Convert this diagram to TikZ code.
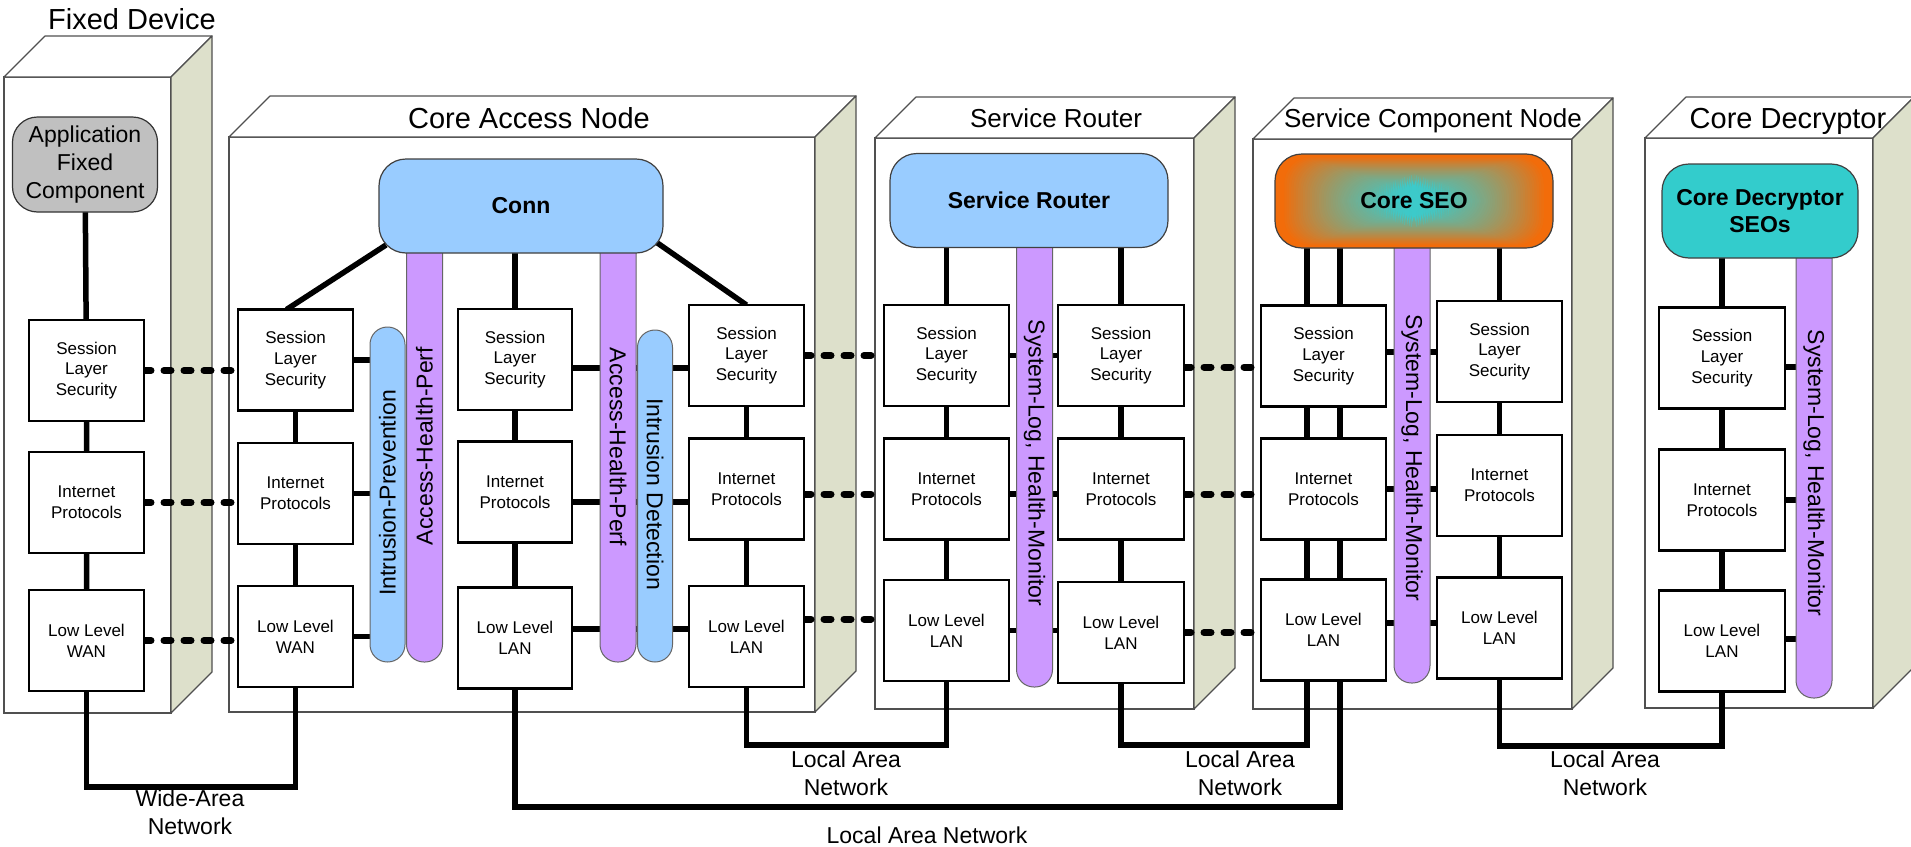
\documentclass[tikz,border=0pt]{standalone}
\usepackage{fontspec}
\setmainfont{Liberation Sans}
\definecolor{khaki}{RGB}{221,224,203}
\definecolor{lblue}{RGB}{153,204,255}
\definecolor{lpurple}{RGB}{204,153,255}
\definecolor{appgray}{RGB}{192,192,192}
\definecolor{tealbox}{RGB}{51,204,204}
\definecolor{seoin}{RGB}{60,202,202}
\definecolor{seoout}{RGB}{242,108,10}
\definecolor{cubeline}{RGB}{80,80,80}
\pgfdeclarelayer{cubes}
\pgfdeclarelayer{wires}
\pgfsetlayers{cubes,wires,main}
\newcommand\devcube[4]{%
  \filldraw[fill=white,draw=cubeline,line width=1.2pt] (#1,#3) rectangle (#2,#4);
  \filldraw[fill=white,draw=cubeline,line width=1.2pt,line join=round] (#1,#3) -- (#1+41,#3-41) -- (#2+41,#3-41) -- (#2,#3) -- cycle;
  \filldraw[fill=khaki,draw=cubeline,line width=1.2pt,line join=round] (#2,#3) -- (#2+41,#3-41) -- (#2+41,#4-41) -- (#2,#4) -- cycle;}
\tikzset{
  every node/.style={inner sep=0pt,outer sep=0pt},
  stack/.style={draw=black,line width=2.5pt,fill=white,minimum width=#1,minimum height=101pt,align=center,font=\fontsize{17}{20.7}\selectfont},
  stack/.default=115pt,
  bigbox/.style={draw=black!75,line width=1.2pt,rounded corners=27pt,minimum width=#1,minimum height=94pt,align=center,font=\fontsize{23}{27}\selectfont\bfseries},
  barb/.style={fill=lblue,draw=black!60,line width=1pt,rounded corners=17.4pt,minimum width=35pt},
  barp/.style={fill=lpurple,draw=black!60,line width=1pt,rounded corners=17.4pt,minimum width=36pt},
  bartext/.style={font=\fontsize{23}{27}\selectfont},
  ttl/.style={font=\fontsize{29}{34}\selectfont,anchor=base},
  ttls/.style={font=\fontsize{26}{30}\selectfont,anchor=base},
  lbl/.style={font=\fontsize{23}{28}\selectfont,align=center,anchor=north},
  wire/.style={line width=5.5pt},
  dotlink/.style={line width=7pt,dash pattern=on 7pt off 13pt,line cap=round},
  rectgrad/.style={fill=seoout,path picture={
    \foreach \i in {0,...,60}{
      \pgfmathsetmacro\f{1-\i/60}
      \pgfmathsetmacro\m{100*(min(1,\f/0.95))^1.6}
      \fill[seoout!\m!seoin] ([shift={(-139*\f,-47*\f)}]path picture bounding box.center) rectangle ([shift={(139*\f,47*\f)}]path picture bounding box.center);
    }}},
}
\begin{document}
\begin{tikzpicture}[x=1pt,y=-1pt]
\useasboundingbox (0,0) rectangle (1911,846);

% ---------- containers ----------
\begin{pgfonlayer}{cubes}
\devcube{4}{171}{77}{713}
\devcube{229}{815}{137}{712}
\devcube{875}{1194}{138}{709}
\devcube{1253}{1572}{139}{709}
\devcube{1645}{1873}{138}{708}
\end{pgfonlayer}

% ---------- titles ----------
\node[ttl] (t1) at (132,29) {Fixed Device};
\node[ttl] (t2) at (529,128) {Core Access Node};
\node[ttls] (t3) at (1056,127) {Service Router};
\node[ttls] (t4) at (1433,127) {Service Component Node};
\node[ttl] (t5) at (1788,128) {Core Decryptor};

% ---------- Fixed device ----------
\node[draw=black!80,line width=1.2pt,fill=appgray,rounded corners=25pt,minimum width=145pt,minimum height=95pt,align=center,font=\fontsize{23}{28}\selectfont] (app) at (85,164.5) {Application\\Fixed\\Component};
\node[stack] (fs) at (86.5,370.5) {Session\\Layer\\Security};
\node[stack] (fi) at (86.5,502.5) {Internet\\Protocols};
\node[stack] (fl) at (86.5,640.5) {Low Level\\WAN};

% ---------- Core Access Node ----------
\node[barp,minimum height=437pt] (ahp1) at (424.5,443.5) {};
\node[barp,minimum height=437pt] (ahp2) at (618,443.5) {};
\node[barb,minimum height=335pt] (ipv) at (387.5,494.5) {};
\node[barb,minimum height=332pt] (idt) at (655,496) {};
\node[bigbox=284pt,fill=lblue] (conn) at (521,206) {Conn};
\node[bartext,rotate=90] (ipvt) at (387.5,493) {Intrusion-Prevention};
\node[bartext,rotate=90] (ahp1t) at (424.5,446) {Access-Health-Perf};
\node[bartext,rotate=-90] (ahp2t) at (618,447) {Access-Health-Perf};
\node[bartext,rotate=-90] (idtt) at (655,494) {Intrusion Detection};

\node[stack] (c1s) at (295.5,360) {Session\\Layer\\Security};
\node[stack] (c1i) at (295.5,493.5) {Internet\\Protocols};
\node[stack] (c1l) at (295.5,636.5) {Low Level\\WAN};
\node[stack=114pt] (c2s) at (515,359.5) {Session\\Layer\\Security};
\node[stack=114pt] (c2i) at (515,492) {Internet\\Protocols};
\node[stack=114pt] (c2l) at (515,638) {Low Level\\LAN};
\node[stack] (c3s) at (746.5,355.5) {Session\\Layer\\Security};
\node[stack] (c3i) at (746.5,489) {Internet\\Protocols};
\node[stack] (c3l) at (746.5,636.5) {Low Level\\LAN};

% ---------- Service Router ----------
\node[barp,minimum height=462pt] (srbar) at (1034.5,456) {};
\node[bigbox=278pt,fill=lblue] (srb) at (1029,200.5) {Service Router};
\node[bartext,rotate=-90] (srbt) at (1034.5,463) {System-Log, Health-Monitor};
\node[stack=125pt] (sr1s) at (946.5,355.5) {Session\\Layer\\Security};
\node[stack=125pt] (sr1i) at (946.5,489) {Internet\\Protocols};
\node[stack=125pt] (sr1l) at (946.5,630.5) {Low Level\\LAN};
\node[stack=126pt] (sr2s) at (1121,355.5) {Session\\Layer\\Security};
\node[stack=126pt] (sr2i) at (1121,489) {Internet\\Protocols};
\node[stack=126pt] (sr2l) at (1121,632.5) {Low Level\\LAN};

% ---------- Service Component Node ----------
\node[barp,minimum height=458pt] (scbar) at (1412,454) {};
\node[bigbox=278pt,rectgrad] (seo) at (1414,201) {Core SEO};
\node[bartext,rotate=-90] (scbt) at (1412,458) {System-Log, Health-Monitor};
\node[stack=125pt] (sc1s) at (1323.5,356) {Session\\Layer\\Security};
\node[stack=125pt] (sc1i) at (1323.5,489) {Internet\\Protocols};
\node[stack=125pt] (sc1l) at (1323.5,630) {Low Level\\LAN};
\node[stack=125pt] (sc2s) at (1499.5,351.5) {Session\\Layer\\Security};
\node[stack=125pt] (sc2i) at (1499.5,485.5) {Internet\\Protocols};
\node[stack=125pt] (sc2l) at (1499.5,628) {Low Level\\LAN};

% ---------- Core Decryptor ----------
\node[barp,minimum height=463pt] (cdbar) at (1814,466.5) {};
\node[bigbox=196pt,fill=tealbox] (cdseo) at (1760,211) {Core Decryptor\\SEOs};
\node[bartext,rotate=-90] (cdbt) at (1814,473) {System-Log, Health-Monitor};
\node[stack=126pt] (cds) at (1722,358) {Session\\Layer\\Security};
\node[stack=126pt] (cdi) at (1722,500) {Internet\\Protocols};
\node[stack=126pt] (cdl) at (1722,641) {Low Level\\LAN};

% ---------- network coordinates ----------
\coordinate (wan) at (190,787);
\coordinate (lanA) at (846,745);
\coordinate (lanB) at (1240,745);
\coordinate (lanC) at (927,807);
\coordinate (lanD) at (1605,746);
\coordinate (scA) at ([xshift=-16.5pt]sc1s.center);
\coordinate (scB) at ([xshift=16.5pt]sc1s.center);

\node[lbl] (lblw) at ([yshift=-3pt]wan) {Wide-Area\\Network};
\node[lbl] (lbla) at ([yshift=-6pt]lanA) {Local Area\\Network};
\node[lbl] (lblb) at ([yshift=-6pt]lanB) {Local Area\\Network};
\node[lbl] (lblc) at ([yshift=-20pt]lanC) {Local Area Network};
\node[lbl] (lbld) at ([yshift=-5pt]lanD) {Local Area\\Network};

% ---------- wires ----------
\begin{pgfonlayer}{wires}
% fixed device
\draw[wire] (app) -- (fs) -- (fi) -- (fl);
\draw[wire] (fl.south) |- (wan) -| (c1l.south);
% core access node
\draw[wire] ([xshift=7pt,yshift=8pt]conn.south west) -- ([xshift=-9pt]c1s.north);
\draw[wire] (c2s.center |- conn.center) -- (c2s.center);
\draw[wire] ([xshift=-7pt,yshift=11pt]conn.south east) -- (c3s.north);
\draw[wire] (c1s) -- (c1i) -- (c1l);
\draw[wire] (c2s) -- (c2i) -- (c2l);
\draw[wire] (c3s) -- (c3i) -- (c3l);
\draw[wire] (c1s) -- (c1s -| ipv);
\draw[wire] (c1i) -- (c1i -| ipv);
\draw[wire] (c1l) -- (c1l -| ipv);
\draw[wire] ([yshift=-8.5pt]c2s.center) -- ([yshift=-8.5pt]c2s.center -| c3s.center);
\draw[wire] ([yshift=-10pt]c2i.center) -- ([yshift=-10pt]c2i.center -| c3i.center);
\draw[wire] ([yshift=9pt]c2l.center) -- ([yshift=9pt]c2l.center -| c3l.center);
% service router
\draw[wire] (sr1s.center |- srb.center) -- (sr1s) -- (sr1i) -- (sr1l);
\draw[wire] (sr2s.center |- srb.center) -- (sr2s) -- (sr2i) -- (sr2l);
\draw[wire] (sr1s) -- (sr1s -| sr2s);
\draw[wire] ([yshift=-5pt]sr1i.center) -- ([yshift=-5pt]sr1i.center -| sr2i.center);
\draw[wire] (sr1l) -- (sr1l -| sr2l);
\draw[wire] (c3l.south) |- (lanA) -| (sr1l.south);
% service component node
\draw[wire] (sc2s.center |- seo.center) -- (sc2s) -- (sc2i) -- (sc2l);
\draw[wire] ([yshift=4pt]sc1s.center) -- ([yshift=4pt]sc1s.center -| sc2s.center);
\draw[wire] (sc1i) -- (sc1i -| sc2i);
\draw[wire] ([yshift=7pt]sc1l.center) -- ([yshift=7pt]sc1l.center -| sc2l.center);
\draw[wire] (sr2l.south) |- (lanB) -| (scA |- seo.center);
\draw[wire] (c2l.south) |- (lanC) -| (scB |- seo.center);
\draw[wire] (sc2l.south) |- (lanD) -| (cdl.south);
% core decryptor
\draw[wire] (cds.center |- cdseo.center) -- (cds) -- (cdi) -- (cdl);
\draw[wire] ([yshift=-9pt]cds.center) -- ([yshift=-9pt]cds.center -| cdbar.center);
\draw[wire] (cdi) -- (cdi -| cdbar);
\draw[wire] ([yshift=2pt]cdl.center) -- ([yshift=2pt]cdl.center -| cdbar.center);
% dotted peer links
\draw[dotlink] (fs.east) -- (fs.east -| c1s.west);
\draw[dotlink] (fi.east) -- (fi.east -| c1i.west);
\draw[dotlink] (fl.east) -- (fl.east -| c1l.west);
\draw[dotlink] (c3s.east) -- (c3s.east -| sr1s.west);
\draw[dotlink] ([yshift=-5pt]c3i.east) -- ([yshift=-5pt]c3i.east -| sr1i.west);
\draw[dotlink] ([yshift=17.5pt]c3l.east) -- ([yshift=17.5pt]c3l.east -| sr1l.west);
\draw[dotlink] ([yshift=-11.5pt]sr2s.east) -- ([yshift=-11.5pt]sr2s.east -| sc1s.west);
\draw[dotlink] ([yshift=-5pt]sr2i.east) -- ([yshift=-5pt]sr2i.east -| sc1i.west);
\draw[dotlink] (sr2l.east) -- (sr2l.east -| sc1l.west);
\end{pgfonlayer}
\end{tikzpicture}
\end{document}
